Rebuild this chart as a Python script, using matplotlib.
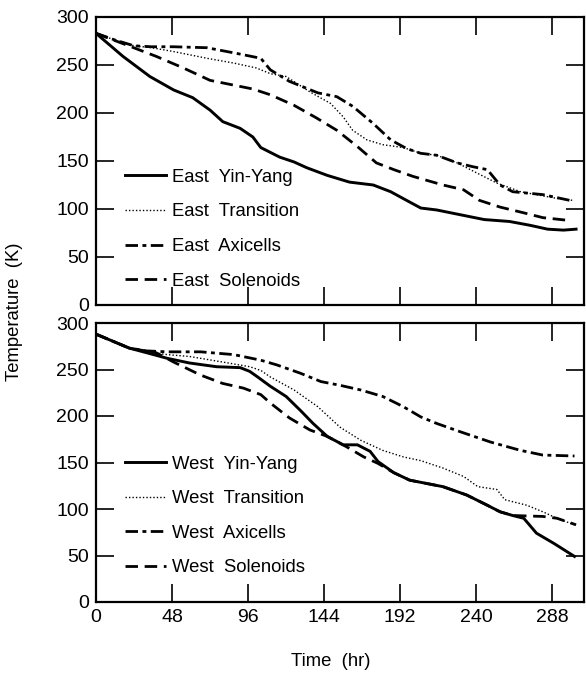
import numpy as np
import matplotlib
matplotlib.use('Agg')
import matplotlib.pyplot as plt

plt.rcParams['font.family'] = ['Liberation Sans', 'DejaVu Sans']

# ---- East (top panel) ----
east_yy_t = [0, 17, 34, 49, 61, 72, 80, 91, 99, 104, 116, 125, 133, 146, 160, 175, 186, 196, 205, 215, 230, 245, 261, 274, 285, 295, 303]
east_yy = [283, 259, 238, 224, 216, 203, 191, 184, 175, 164, 154, 149, 143, 135, 128, 125, 118, 109, 101, 99, 94, 89, 87, 83, 79, 78, 79]

east_tr_t = [0, 12, 24, 35, 49, 70, 87, 101, 110, 120, 135, 148, 156, 162, 171, 181, 194, 205, 215, 228, 241, 253, 268, 291, 301]
east_tr = [283, 276, 270, 268, 264, 257, 252, 247, 241, 238, 222, 210, 196, 182, 172, 167, 164, 158, 156, 148, 137, 127, 118, 111, 109]

east_ax_t = [0, 12, 24, 35, 49, 70, 89, 104, 110, 122, 140, 152, 162, 175, 186, 196, 205, 215, 228, 238, 247, 255, 263, 282, 299]
east_ax = [283, 276, 270, 269, 269, 268, 262, 257, 245, 233, 221, 217, 207, 189, 172, 163, 158, 156, 148, 144, 141, 125, 118, 115, 109]

east_so_t = [0, 19, 38, 55, 72, 87, 99, 110, 125, 139, 152, 165, 177, 188, 200, 219, 232, 242, 255, 270, 282, 299]
east_so = [283, 271, 259, 247, 234, 229, 225, 219, 208, 195, 182, 165, 148, 141, 134, 125, 120, 109, 102, 96, 91, 88]

# ---- West (bottom panel) ----
west_yy_t = [0, 21, 32, 45, 59, 76, 91, 97, 102, 110, 120, 129, 137, 146, 156, 165, 173, 178, 188, 198, 219, 234, 247, 255, 263, 270, 278, 289, 302]
west_yy = [288, 273, 268, 262, 257, 253, 252, 248, 242, 232, 221, 206, 192, 178, 169, 169, 162, 151, 139, 131, 124, 115, 104, 97, 93, 90, 74, 63, 49]

west_tr_t = [0, 21, 32, 45, 59, 80, 97, 104, 110, 125, 140, 154, 167, 181, 194, 205, 219, 232, 241, 253, 258, 272, 282, 291, 302]
west_tr = [288, 273, 269, 266, 264, 258, 253, 249, 242, 228, 210, 188, 174, 163, 156, 152, 144, 135, 124, 121, 110, 104, 97, 90, 83]

west_ax_t = [0, 21, 32, 45, 66, 87, 104, 114, 129, 142, 154, 167, 181, 194, 205, 215, 230, 249, 268, 282, 302]
west_ax = [288, 273, 270, 269, 269, 266, 260, 255, 246, 237, 233, 228, 221, 210, 199, 192, 183, 172, 163, 158, 157]

west_so_t = [0, 21, 38, 49, 66, 80, 93, 104, 110, 122, 135, 146, 158, 169, 178, 188, 198, 219, 234, 247, 255, 263, 282, 291, 303]
west_so = [288, 273, 268, 258, 244, 235, 230, 223, 214, 198, 185, 178, 167, 156, 149, 139, 131, 124, 115, 104, 97, 93, 92, 90, 83]

x_ticks = [0, 48, 96, 144, 192, 240, 288]
y_ticks = [0, 50, 100, 150, 200, 250, 300]

fig = plt.figure(figsize=(5.86, 6.73), dpi=100)
ax1 = fig.add_axes([96/586, 1-305/673, 488/586, 288/673])
ax2 = fig.add_axes([96/586, 1-602/673, 488/586, 279/673])

styles = dict(
    yy=dict(color='black', lw=2.1, linestyle='-'),
    tr=dict(color='black', lw=1.0, linestyle=(0, (1, 1.5))),
    ax=dict(color='black', lw=2.0, linestyle=(0, (4.5, 1.6, 1.4, 1.6))),
    so=dict(color='black', lw=2.0, linestyle=(0, (4.5, 2.4))),
)

ax1.plot(east_yy_t, east_yy, label='East  Yin-Yang', **styles['yy'])
ax1.plot(east_tr_t, east_tr, label='East  Transition', **styles['tr'])
ax1.plot(east_ax_t, east_ax, label='East  Axicells', **styles['ax'])
ax1.plot(east_so_t, east_so, label='East  Solenoids', **styles['so'])

ax2.plot(west_yy_t, west_yy, label='West  Yin-Yang', **styles['yy'])
ax2.plot(west_tr_t, west_tr, label='West  Transition', **styles['tr'])
ax2.plot(west_ax_t, west_ax, label='West  Axicells', **styles['ax'])
ax2.plot(west_so_t, west_so, label='West  Solenoids', **styles['so'])

for ax, ly in ((ax1, 0.028), (ax2, 0.066)):
    ax.set_xlim(0, 308)
    ax.set_ylim(0, 300)
    ax.set_xticks(x_ticks)
    ax.set_yticks(y_ticks)
    ax.tick_params(direction='in', length=13, width=1.2, top=True, right=True,
                   labelsize=14, pad=5, colors='black')
    for s in ax.spines.values():
        s.set_linewidth(1.6)
    ax.legend(loc='lower left', bbox_to_anchor=(0.045, ly), frameon=False,
              fontsize=13.3, handlelength=2.2, handletextpad=0.3,
              labelspacing=0.95, borderaxespad=0)

ax1.tick_params(labelbottom=False)

fig.text(15/586, 1-312/673, 'Temperature  (K)', rotation=90, ha='center', va='center', fontsize=13.3)
fig.text(331/586, 1-662/673, 'Time  (hr)', ha='center', va='center', fontsize=13.3)

fig.savefig('out.png', dpi=100)
